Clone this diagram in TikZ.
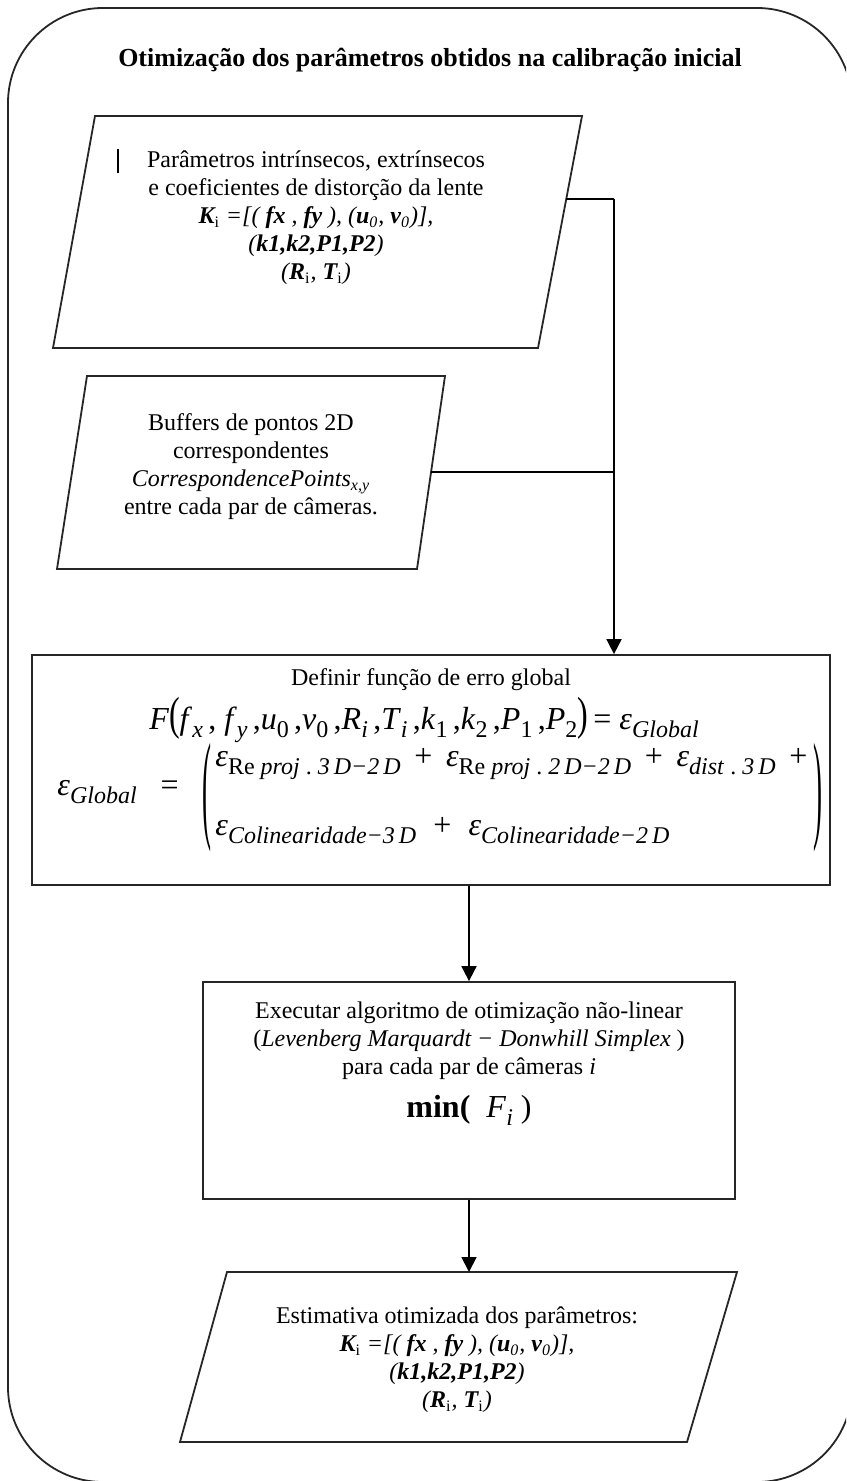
\documentclass[tikz,border=0pt]{standalone}
\usepackage{graphicx}
\usepackage{fontspec}
\setmainfont{Liberation Serif}
\usetikzlibrary{arrows.meta}
\newcommand\iv[1]{\textit{#1}}
\newcommand\sbs[1]{\textsubscript{#1}}
\newcommand\sbx[1]{\raisebox{-0.55ex}{\fontsize{12}{14}\selectfont #1}}
\newcommand\bi[1]{\textbf{\textit{#1}}}
\newcommand\tallL{\scalebox{1}[1.45]{(}}
\newcommand\tallR{\scalebox{1}[1.45]{)}}
\begin{document}
\begin{tikzpicture}[x=0.5pt,y=-0.5pt,
  shp/.style={draw=black!85, line width=0.9pt},
  conn/.style={draw=black, line width=0.9pt},
  arr/.style={conn, -{Triangle[length=7.5pt,width=7.5pt]}},
  body/.style={font=\fontsize{12}{14}\selectfont, align=center, inner sep=0pt},
  mth/.style={font=\fontsize{16}{18}\selectfont, inner sep=0pt},
  bigpar/.style={font=\fontsize{15}{18}\selectfont, inner sep=0pt},
  boxnode/.style={shp, inner sep=0pt}
  ]
\useasboundingbox (0,0) rectangle (846,1481);
\clip (0,0) rectangle (846,1481);
% outer frame
\draw[shp, rounded corners=47.5pt] (8,8) rectangle (852,1482);
% title
\node[font=\fontsize{13}{15}\selectfont\bfseries, inner sep=0pt] (title) at (430,60) {Otimização dos parâmetros obtidos na calibração inicial};

% parallelogram 1
\draw[shp] (95,116) -- (582,116) -- (538,348) -- (53,348) -- cycle;
\coordinate (p1r) at (566.3,199);
\draw[line width=0.6pt] (118,149) -- (118,173);
\node[body] (t1) at (316,218) {Parâmetros intrínsecos, extrínsecos\\
e coeficientes de distorção da lente\\
{\itshape \bi{K}\sbs{\upshape i} =[( \bi{fx} , \bi{fy} ), (\bi{u}\sbs{0}, \bi{v}\sbs{0})],}\\
{\itshape (\bi{k1,k2,P1,P2})}\\
{\itshape (\bi{R}\sbs{\upshape i}, \bi{T}\sbs{\upshape i})}};

% parallelogram 2
\draw[shp] (87,376) -- (445,376) -- (417,569) -- (57,569) -- cycle;
\coordinate (p2r) at (431,472);
\node[body] (t2) at (251,467) {Buffers de pontos 2D\\
correspondentes\\
\iv{CorrespondencePoints}\sbs{\iv{x,y}}\\
entre cada par de câmeras.};

% junctions
\coordinate (j1) at (614,199);
\coordinate (j2) at (614,472);

% box 1
\node[boxnode, minimum width=399pt, minimum height=115pt] (b1) at (431,770) {};
\node[body] (b1t) at (431,680) {Definir função de erro global};
\node[mth] (fform) at (424,720) {\iv{F}\tallL\iv{f}\sbx{\iv{x}}\,, \iv{f}\sbx{\iv{y}}\,,\iv{u}\sbx{0}\,,\iv{v}\sbx{0}\,,\iv{R}\sbx{\iv{i}}\,,\iv{T}\sbx{\iv{i}}\,,\iv{k}\sbx{1}\,,\iv{k}\sbx{2}\,,\iv{P}\sbx{1}\,,\iv{P}\sbx{2}\tallR\,= \iv{ε}\sbx{\iv{Global}}};
\node[mth, anchor=west] (eglob) at (57,792) {\iv{ε}\sbx{\iv{Global}}\ \ \ =};
\node[bigpar] (lpar) at (207,798) {\scalebox{0.9}[4.0]{(}};
\node[bigpar] (rpar) at (818,798) {\scalebox{0.9}[4.0]{)}};
\node[mth, anchor=west] (row1) at (215,764) {\makebox[296pt][s]{\iv{ε}\sbx{Re \iv{proj}\ .\ \iv{3\,D−2\,D}}\hfill+\hfill\iv{ε}\sbx{Re \iv{proj}\ .\ \iv{2\,D−2\,D}}\hfill+\hfill\iv{ε}\sbx{\iv{dist}\ .\ \iv{3\,D}}\hfill+}};
\node[mth, anchor=west] (row2) at (215,831) {\makebox[227pt][s]{\iv{ε}\sbx{\iv{Colinearidade−3\,D}}\hfill+\hfill\iv{ε}\sbx{\iv{Colinearidade−2\,D}}}};

% box 2
\node[boxnode, minimum width=266pt, minimum height=108.5pt] (b2) at (469,1090.5) {};
\node[body] (b2t) at (469,1041) {Executar algoritmo de otimização não-linear\\
(\iv{Levenberg Marquardt − Donwhill Simplex} )\\
para cada par de câmeras \iv{i}};
\node[mth] (minf) at (469,1110) {\textbf{min(}\ \ \iv{F}\sbx{\iv{i}} )};

% parallelogram 3
\draw[shp] (227,1272) -- (737,1272) -- (687,1442) -- (180,1442) -- cycle;
\coordinate (p3t) at (469,1272);
\node[body] (t3) at (457,1360) {Estimativa otimizada dos parâmetros:\\
{\itshape \bi{K}\sbs{\upshape i} =[( \bi{fx} , \bi{fy} ), (\bi{u}\sbs{0}, \bi{v}\sbs{0})],}\\
{\itshape (\bi{k1,k2,P1,P2})}\\
{\itshape (\bi{R}\sbs{\upshape i}, \bi{T}\sbs{\upshape i})}};

% connectors
\draw[conn] (p1r) -- (j1);
\draw[conn] (p2r) -- (j2);
\draw[arr] (j1) -- (j1 |- b1.north);
\draw[arr] (b1.south -| b2.north) -- (b2.north);
\draw[arr] (b2.south) -- (p3t);
\end{tikzpicture}
\end{document}
